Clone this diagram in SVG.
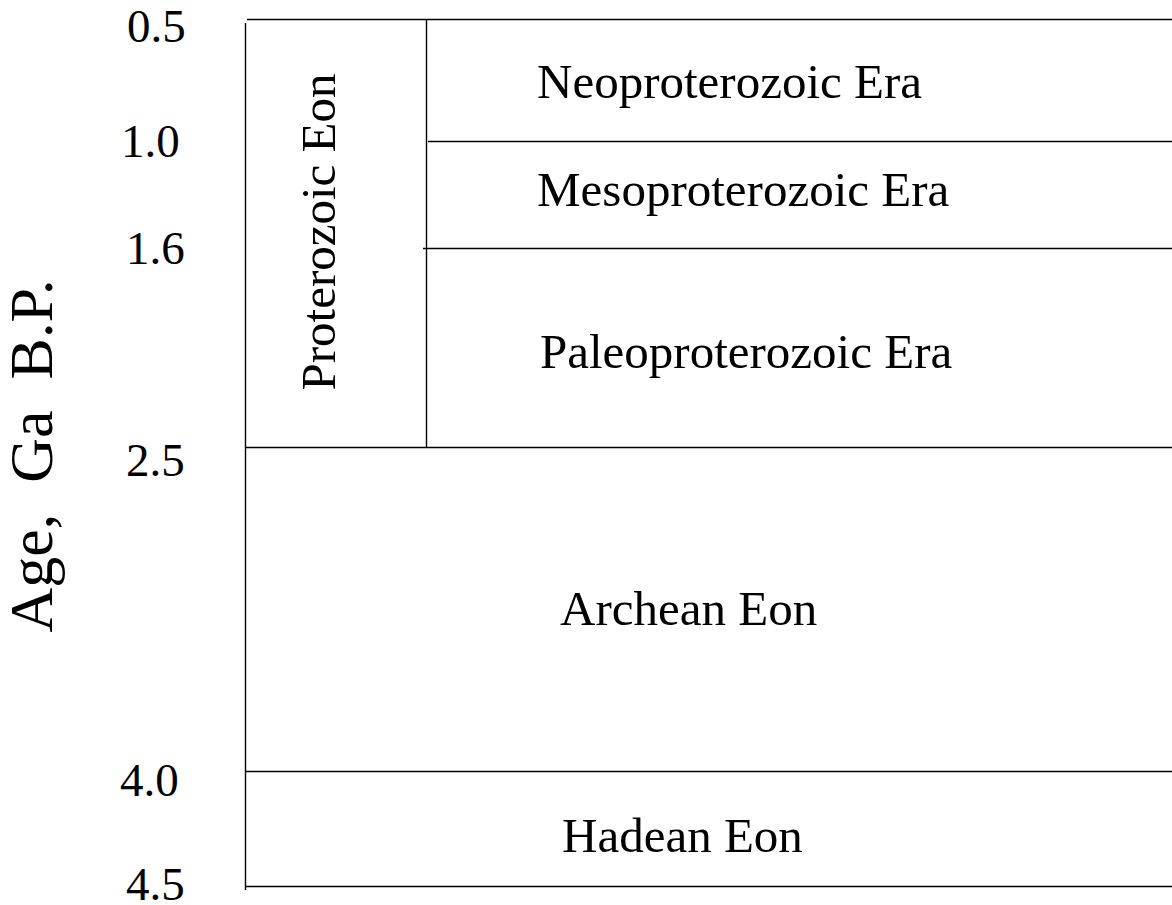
<svg xmlns="http://www.w3.org/2000/svg" width="1172" height="905" viewBox="0 0 1172 905">
<style>
.ln{stroke:#000;stroke-width:1.4;fill:none}
.t{font-family:"Liberation Serif","Times New Roman",serif;fill:#000}
.num{font-size:47px}
.lab{font-size:49px}
</style>
<rect width="1172" height="905" fill="#fff"/>
<g id="connectors">
<line class="ln" x1="245.5" y1="23" x2="245.5" y2="890"/>
<line class="ln" x1="247" y1="19.5" x2="1172" y2="19.5"/>
<line class="ln" x1="426.5" y1="19" x2="426.5" y2="448"/>
<line class="ln" x1="428" y1="141.5" x2="1172" y2="141.5"/>
<line class="ln" x1="423" y1="248.5" x2="1172" y2="248.5"/>
<line class="ln" x1="245" y1="447.5" x2="1172" y2="447.5"/>
<line class="ln" x1="245" y1="771.5" x2="1172" y2="771.5"/>
<line class="ln" x1="245" y1="886.5" x2="1172" y2="886.5"/>
</g>
<g id="axis-title"><text class="t" font-size="62" transform="translate(52,456) rotate(-90)" text-anchor="middle" xml:space="preserve">Age,  Ga  B.P.</text></g>
<g id="ticks" class="t num">
<text x="127" y="42">0.5</text>
<text x="121" y="157">1.0</text>
<text x="126" y="264">1.6</text>
<text x="126" y="476">2.5</text>
<text x="120" y="796">4.0</text>
<text x="126" y="900">4.5</text>
</g>
<g id="proterozoic"><text class="t lab" transform="translate(335,232) rotate(-90)" text-anchor="middle">Proterozoic Eon</text></g>
<g id="neoproterozoic"><text class="t lab" x="537" y="98">Neoproterozoic Era</text></g>
<g id="mesoproterozoic"><text class="t lab" x="537" y="206">Mesoproterozoic Era</text></g>
<g id="paleoproterozoic"><text class="t lab" x="540" y="368">Paleoproterozoic Era</text></g>
<g id="archean"><text class="t lab" x="560" y="625">Archean Eon</text></g>
<g id="hadean"><text class="t lab" x="562" y="852">Hadean Eon</text></g>
</svg>
